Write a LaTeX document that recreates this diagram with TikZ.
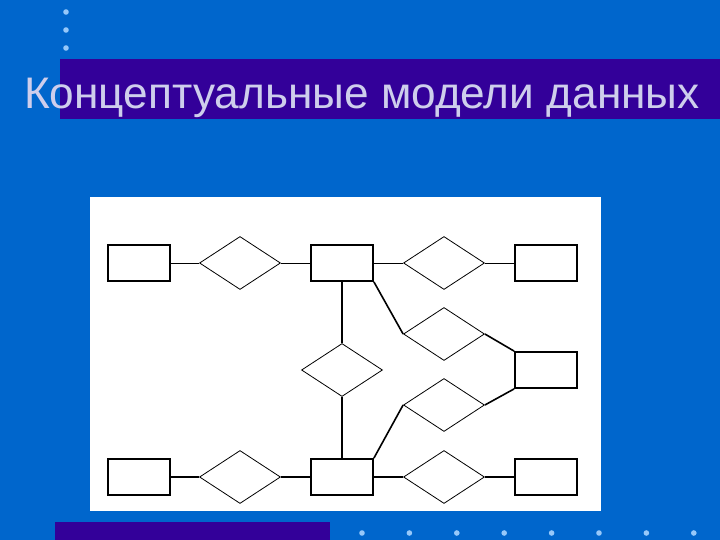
\documentclass[tikz,border=0pt]{standalone}
\usepackage{fontspec}
\setmainfont{Liberation Sans}
\usetikzlibrary{shapes.geometric}
\definecolor{bgblue}{RGB}{0,102,204}
\definecolor{barpurple}{RGB}{51,0,153}
\definecolor{dotblue}{RGB}{150,200,250}
\definecolor{titlegray}{RGB}{206,206,236}
\tikzset{
  entity/.style={draw=black, line width=1.8pt, fill=white, minimum width=62pt, minimum height=36pt, inner sep=0pt},
  relation/.style={draw=black, line width=0.8pt, diamond, aspect=1.53, minimum width=81pt, minimum height=53pt, inner sep=0pt},
  thinlink/.style={line width=1pt},
  thicklink/.style={line width=1.6pt},
  deco/.style={fill=dotblue, draw=none},
}
\begin{document}
\begin{tikzpicture}[x=1pt,y=-1pt]
\fill[bgblue] (0,0) rectangle (720,540);
\useasboundingbox (0,0) rectangle (720,540);
% title bar and bottom bar
\fill[barpurple] (60,59) rectangle (720,119);
\fill[barpurple] (55,522) rectangle (330,540);
% decorative dots
\foreach \yy in {12,30,48} \fill[deco] (66,\yy) circle (2.8);
\foreach \i in {0,...,7} \fill[deco] (362+47.4*\i,533) circle (2.8);
% title
\node[anchor=base west, inner sep=0pt, text=titlegray, font=\fontsize{44.2}{50}\selectfont] (title) at (24,109) {Концептуальные модели данных};
% white panel
\fill[white] (90,197) rectangle (601,511);
% entities
\node[entity] (tl) at (139,263) {};
\node[entity] (tm) at (342,263) {};
\node[entity] (tr) at (546,263) {};
\node[entity] (mr) at (546,370) {};
\node[entity] (bl) at (139,477) {};
\node[entity] (bm) at (342,477) {};
\node[entity] (br) at (546,477) {};
% relationships
\node[relation] (d1) at (240,263) {};
\node[relation] (d2) at (444,263) {};
\node[relation] (d3) at (342,370) {};
\node[relation] (d4) at (444,334) {};
\node[relation] (d5) at (444,405) {};
\node[relation] (d6) at (240,477) {};
\node[relation] (d7) at (444,477) {};
% links
\draw[thinlink] (tl.east) -- (d1.west);
\draw[thinlink] (d1.east) -- (tm.west);
\draw[thinlink] (tm.east) -- (d2.west);
\draw[thinlink] (d2.east) -- (tr.west);
\draw[thicklink] (tm.south) -- (d3.north);
\draw[thicklink] (d3.south) -- (bm.north);
\draw[thicklink] (tm.south east) -- (d4.west);
\draw[thicklink] (d4.east) -- (mr.north west);
\draw[thicklink] (mr.south west) -- (d5.east);
\draw[thicklink] (d5.west) -- (bm.north east);
\draw[thicklink] (bl.east) -- (d6.west);
\draw[thicklink] (d6.east) -- (bm.west);
\draw[thicklink] (bm.east) -- (d7.west);
\draw[thicklink] (d7.east) -- (br.west);
\end{tikzpicture}
\end{document}
